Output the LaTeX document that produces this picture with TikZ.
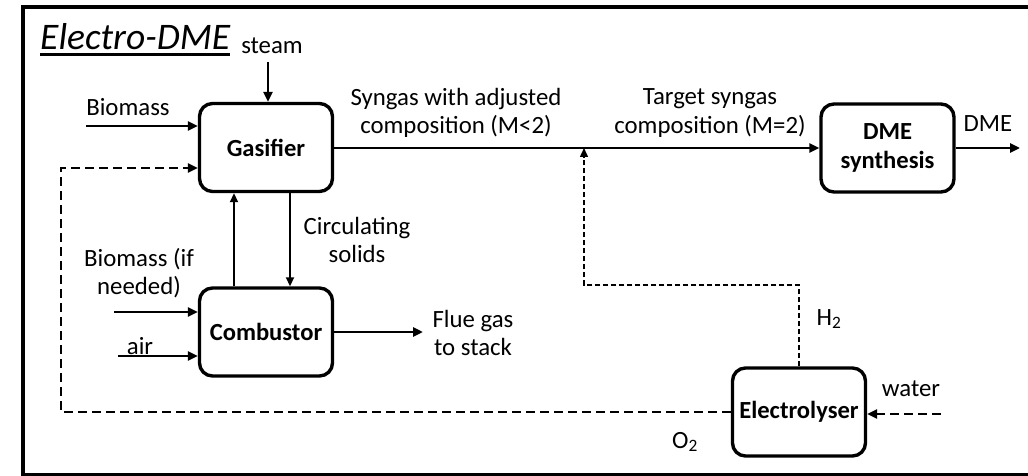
\documentclass[tikz,border=0pt]{standalone}
\usepackage{fontspec}
\setmainfont{Carlito}
\usetikzlibrary{arrows.meta}
\tikzset{
  unit/.style={draw, line width=3.4pt, rounded corners=13pt, minimum width=133pt, minimum height=88pt, inner sep=0pt, align=center, font=\fontsize{24.6}{28.5}\selectfont\bfseries},
  lbl/.style={inner sep=0pt, align=center, font=\fontsize{24.8}{28.5}\selectfont},
  arr/.style={line width=2.9pt, -{Triangle[length=10pt,width=9pt]}},
  thinarr/.style={line width=1.8pt, -{Triangle[length=9pt,width=8pt]}},
  dasharr/.style={line width=2.9pt, dash pattern=on 9pt off 5pt, -{Triangle[length=10pt,width=9pt]}},
  thindash/.style={line width=1.4pt, dash pattern=on 5pt off 3pt, -{Triangle[length=9pt,width=8pt]}},
}
\begin{document}
\begin{tikzpicture}[x=1pt,y=-1pt]
\useasboundingbox (0,0) rectangle (1028,476);
% frame (open on the right)
\draw[line width=3.8pt] (1040,7) -- (23,7) -- (23,475) -- (1040,475);
% title
\node[anchor=base west, inner sep=0pt, font=\fontsize{37.5}{44}\selectfont\itshape] (title) at (40,50)
  {\setbox0\hbox{Electro-DME}\rlap{\rule[-6pt]{\wd0}{2.8pt}}\box0};
% units
\node[unit] (gas) at (266,147.5) {Gasifier};
\node[unit] (comb) at (266,332) {Combustor};
\node[unit] (dme) at (887.5,148) {DME\\synthesis};
\node[unit] (elec) at (799,412) {Electrolyser};
% free ends
\coordinate (steamin) at (268,62);
\coordinate (bm) at (86,126);
\coordinate (bm2) at (114,312);
\coordinate (airin) at (118,356);
\coordinate (flue) at (423,332);
\coordinate (dmeout) at (1020,148);
\coordinate (waterin) at (941,414);
\coordinate (mix) at (584,148);
\coordinate (oleft) at (61,412);
\coordinate (otop) at (61,168);
\coordinate (hcorner) at (799,285);
\coordinate (upx) at (234,0);
\coordinate (downx) at (290,0);
% connectors
\draw[arr] (steamin) -- (steamin |- gas.north);
\draw[arr] (bm) -- (bm -| gas.west);
\draw[arr] (gas.east |- dmeout) -- (dme.west |- dmeout);
\draw[arr] (dme.east |- dmeout) -- (dmeout);
\draw[thinarr] (upx |- comb.north) -- (upx |- gas.south);
\draw[thinarr] (downx |- gas.south) -- (downx |- comb.north);
\draw[arr] (bm2) -- (bm2 -| comb.west);
\draw[arr] (airin) -- (airin -| comb.west);
\draw[arr] (comb.east) -- (flue);
\draw[dasharr] (elec.west) -- (oleft) -- (otop) -- (otop -| gas.west);
\draw[dasharr] (waterin) -- (waterin -| elec.east);
\draw[thindash] (elec.north) -- (hcorner) -- (hcorner -| mix) -- (mix);
% labels
\node[lbl] (lsteam) at (272,46) {steam};
\node[lbl] (lbm) at (128,107) {Biomass};
\node[lbl] (lsyn) at (456,113) {Syngas with adjusted\\composition (M<2)};
\node[lbl] (ltarget) at (710,113) {Target syngas\\composition (M=2)};
\node[lbl] (ldme) at (988,124) {DME};
\node[lbl] (lcirc) at (357,240) {Circulating\\solids};
\node[lbl] (lbm2) at (139,273) {Biomass (if\\needed)};
\node[lbl] (lair) at (140,346) {air};
\node[lbl] (lflue) at (473,333) {Flue gas\\to stack};
\node[lbl] (lh2) at (829,319) {H\textsubscript{2}};
\node[lbl] (lo2) at (685,442) {O\textsubscript{2}};
\node[lbl] (lwater) at (911,389) {water};
\end{tikzpicture}
\end{document}
